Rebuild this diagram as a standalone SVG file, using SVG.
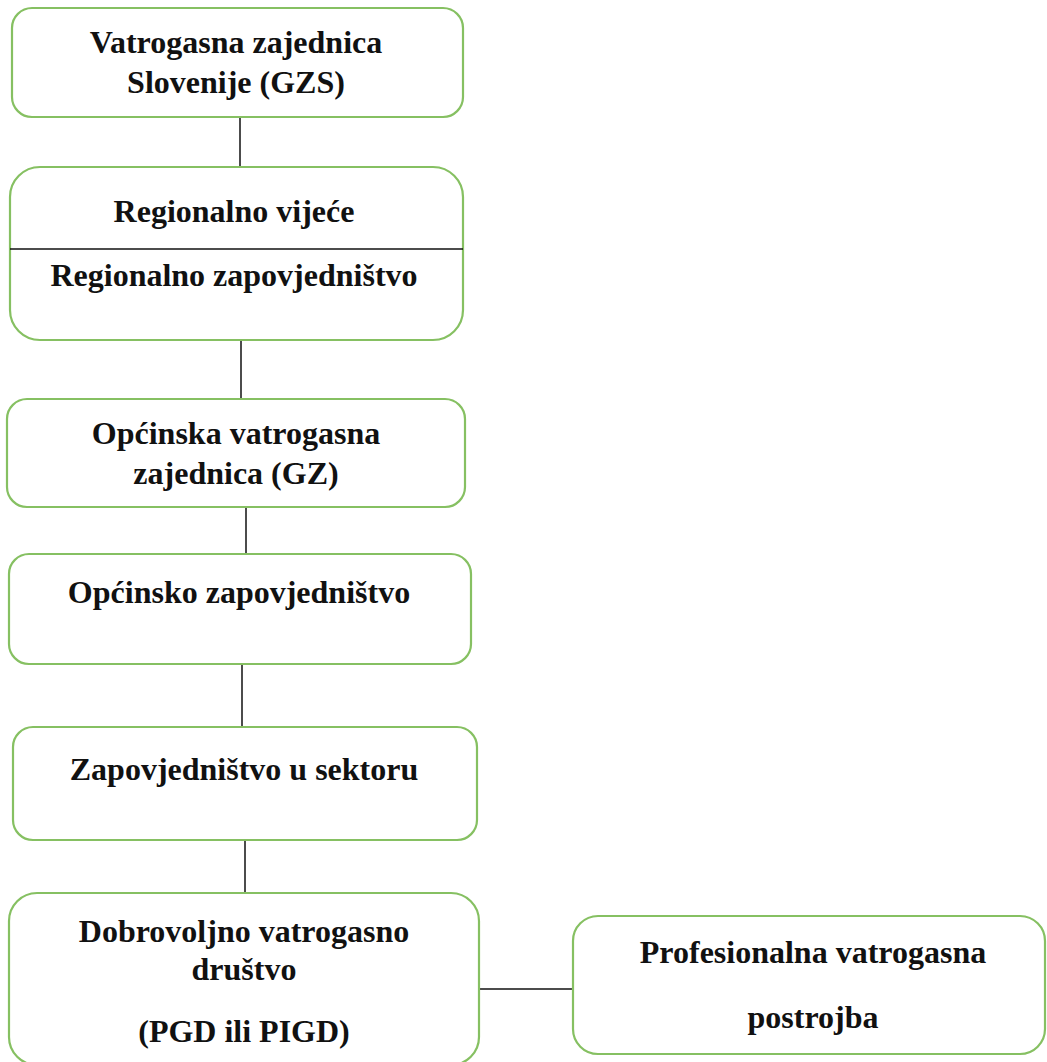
<svg xmlns="http://www.w3.org/2000/svg" width="1047" height="1062" viewBox="0 0 1047 1062">
<style>
.box{fill:#ffffff;stroke:#86c062;stroke-width:2.2}
.t{font-family:"Liberation Serif","Times New Roman",serif;font-weight:bold;font-size:32px;fill:#111111;text-anchor:middle}
.c{stroke:#111111;stroke-width:1.5;fill:none}
</style>
<rect width="1047" height="1062" fill="#ffffff"/>
<g id="connectors">
<line class="c" x1="240" y1="118" x2="240" y2="167"/>
<line class="c" x1="241" y1="341" x2="241" y2="399"/>
<line class="c" x1="246" y1="508" x2="246" y2="554"/>
<line class="c" x1="242" y1="665" x2="242" y2="727"/>
<line class="c" x1="245" y1="841" x2="245" y2="893"/>
<line class="c" x1="479" y1="989" x2="573" y2="989"/>
</g>
<g id="gzs">
<rect class="box" x="12" y="8" width="451" height="109" rx="20"/>
<text class="t" x="236" y="53">Vatrogasna zajednica</text>
<text class="t" x="236" y="93">Slovenije (GZS)</text>
</g>
<g id="regional">
<rect class="box" x="10" y="167" width="453" height="173" rx="30"/>
<line class="c" x1="10" y1="249" x2="463" y2="249"/>
<text class="t" x="234" y="222">Regionalno vijeće</text>
<text class="t" x="234" y="286">Regionalno zapovjedništvo</text>
</g>
<g id="gz">
<rect class="box" x="7" y="399" width="458" height="108" rx="20"/>
<text class="t" x="236" y="444">Općinska vatrogasna</text>
<text class="t" x="236" y="484">zajednica (GZ)</text>
</g>
<g id="opcinsko">
<rect class="box" x="9" y="554" width="462" height="110" rx="20"/>
<text class="t" x="239" y="603">Općinsko zapovjedništvo</text>
</g>
<g id="sektor">
<rect class="box" x="13" y="727" width="464" height="113" rx="20"/>
<text class="t" x="244" y="780">Zapovjedništvo u sektoru</text>
</g>
<g id="dvd">
<rect class="box" x="9" y="893" width="470" height="172" rx="28"/>
<text class="t" x="244" y="942">Dobrovoljno vatrogasno</text>
<text class="t" x="244" y="980">društvo</text>
<text class="t" x="244" y="1042">(PGD ili PIGD)</text>
</g>
<g id="pvp">
<rect class="box" x="573" y="916" width="472" height="138" rx="25"/>
<text class="t" x="813" y="963">Profesionalna vatrogasna</text>
<text class="t" x="813" y="1028">postrojba</text>
</g>
</svg>
